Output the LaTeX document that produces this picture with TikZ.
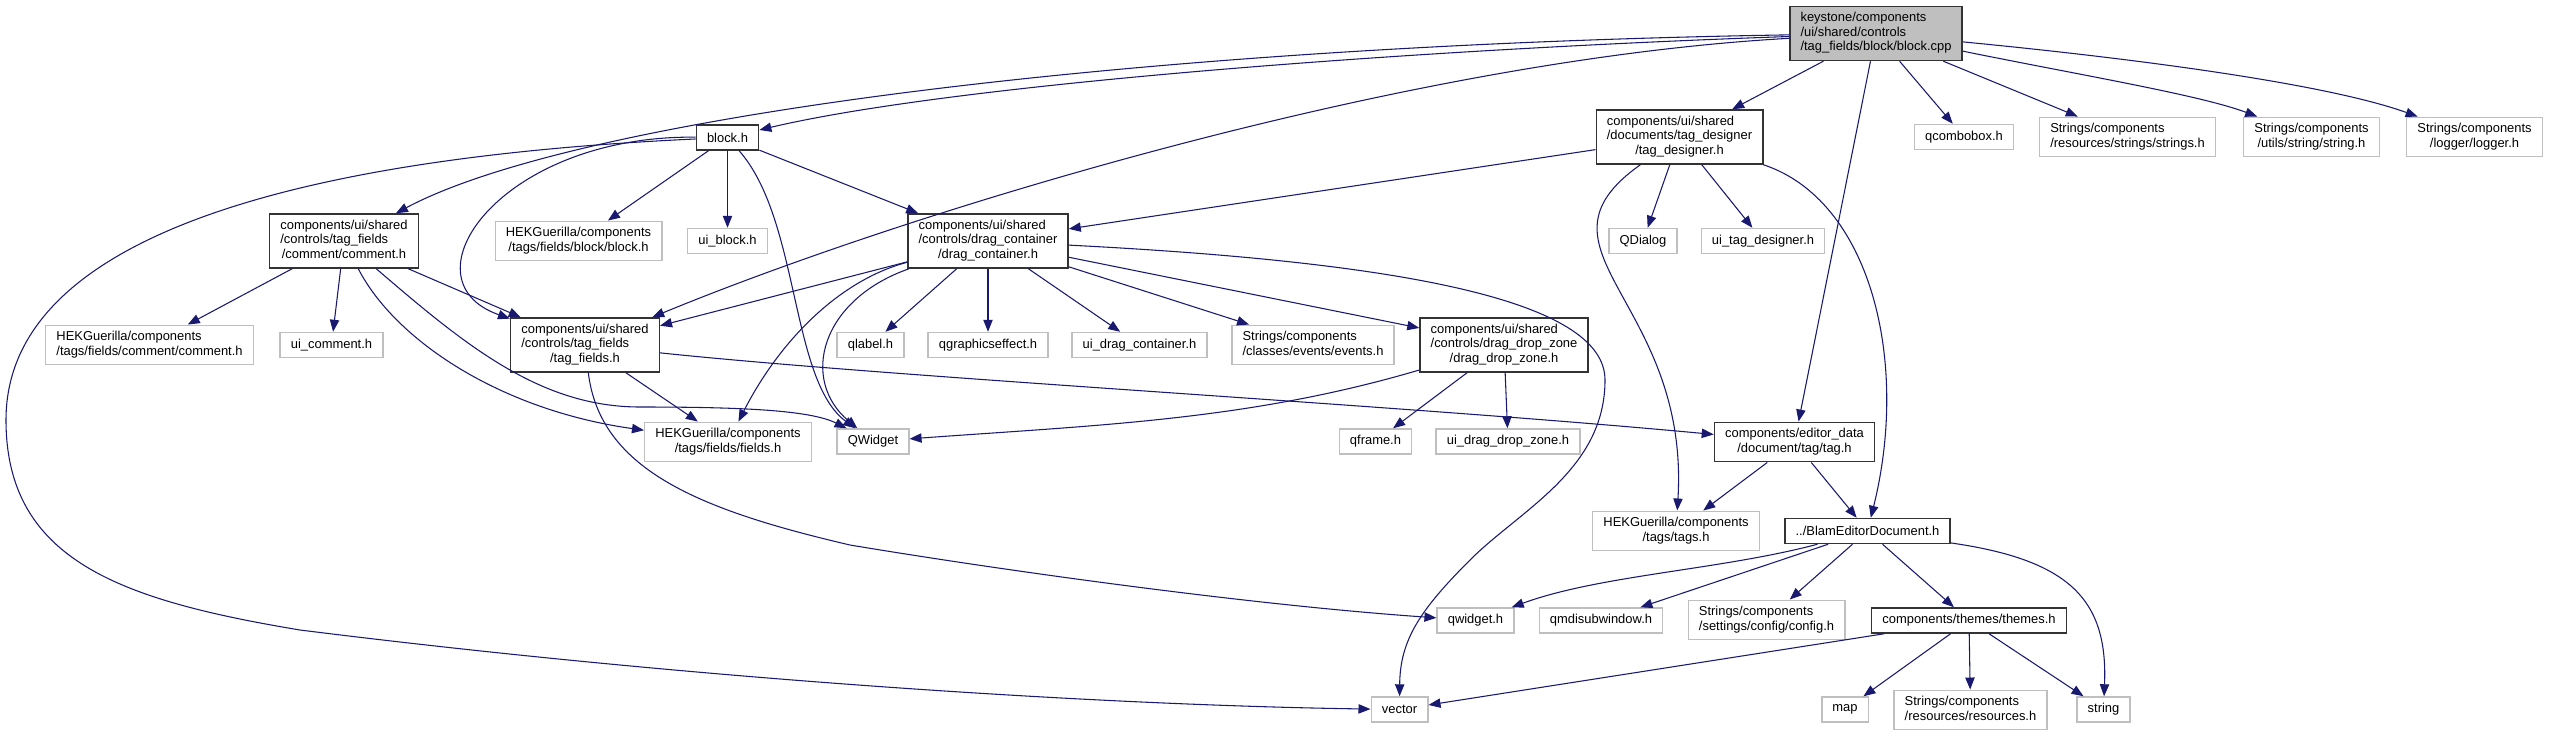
\documentclass[tikz,border=0pt]{standalone}
\usepackage{fontspec}
\setmainfont{Liberation Sans}
\usetikzlibrary{arrows.meta}
\definecolor{edgeblue}{HTML}{191970}
% lines left aligned, last one centred (as doxygen does)
\newcommand{\flines}[2]{\begin{tabular}{@{}l@{}}#1\\\multicolumn{1}{@{}c@{}}{#2}\end{tabular}}

\begin{document}
\begin{tikzpicture} [x=0.75pt, y=-0.75pt,
    every node/.style = {font=\fontsize{9.7}{10.9}\selectfont},
    box/.style = {rectangle,
    inner xsep = 8pt,
    inner ysep = 3.9pt,
    minimum height = 18.75pt,
    line width = 1.1pt,
    fill = white},
    doc/.style = {box, draw=black!80},
    ext/.style = {box, draw=gray!50},
    root/.style = {box, draw=black!80, fill=gray!50},
    dep/.style = {draw=edgeblue, line width=0.8pt,
    -{Triangle[length=9pt,width=7pt]}}]

\useasboundingbox (0,0) rectangle (2549,736);

% rank 0 and 1
\node (cpp) at (1876,33.5) [root] {\flines{keystone/components\\/ui/shared/controls}{/tag\_fields/block/block.cpp}};
\node (blockh) at (727.5,137.5) [doc] {block.h};
\node (tagdes) at (1679.5,137) [doc] {\flines{components/ui/shared\\/documents/tag\_designer}{/tag\_designer.h}};
\node (qcombo) at (1964,137) [ext] {qcombobox.h};
\node (strings) at (2127.5,137) [ext] {\flines{Strings/components}{/resources/strings/strings.h}};
\node (stringh) at (2311.5,137) [ext] {\flines{Strings/components}{/utils/string/string.h}};
\node (logger) at (2474.5,137) [ext] {\flines{Strings/components}{/logger/logger.h}};

% rank 2
\node (comment) at (344,241) [doc] {\flines{components/ui/shared\\/controls/tag\_fields}{/comment/comment.h}};
\node (hekblock) at (578.5,241) [ext] {\flines{HEKGuerilla/components}{/tags/fields/block/block.h}};
\node (uiblock) at (727.5,241) [ext] {ui\_block.h};
\node (dragcont) at (988,241) [doc] {\flines{components/ui/shared\\/controls/drag\_container}{/drag\_container.h}};
\node (qdialog) at (1643,241) [ext] {QDialog};
\node (uitagdes) at (1763,241) [ext] {ui\_tag\_designer.h};

% rank 3
\node (hekcomment) at (149.5,345) [ext] {\flines{HEKGuerilla/components}{/tags/fields/comment/comment.h}};
\node (uicomment) at (331.5,345) [ext] {ui\_comment.h};
\node (tagfields) at (585,345) [doc] {\flines{components/ui/shared\\/controls/tag\_fields}{/tag\_fields.h}};
\node (qlabel) at (870.5,345) [ext] {qlabel.h};
\node (qgfx) at (988,345) [ext] {qgraphicseffect.h};
\node (uidragcont) at (1139.5,345) [ext] {ui\_drag\_container.h};
\node (events) at (1313,345) [ext] {\flines{Strings/components}{/classes/events/events.h}};
\node (dropzone) at (1504,345) [doc] {\flines{components/ui/shared\\/controls/drag\_drop\_zone}{/drag\_drop\_zone.h}};

% rank 4
\node (fields) at (728,442) [ext] {\flines{HEKGuerilla/components}{/tags/fields/fields.h}};
\node (qwidgetcap) at (873,441.5) [ext] {QWidget};
\node (qframe) at (1375.5,441.5) [ext] {qframe.h};
\node (uidropzone) at (1508,441.5) [ext] {ui\_drag\_drop\_zone.h};
\node (tagh) at (1794.5,442) [doc] {\flines{components/editor\_data}{/document/tag/tag.h}};

% rank 5 to 7
\node (tags) at (1676,531) [ext] {\flines{HEKGuerilla/components}{/tags/tags.h}};
\node (blam) at (1867.5,531) [doc] {../BlamEditorDocument.h};
\node (qwidget) at (1475.5,620.5) [ext] {qwidget.h};
\node (qmdi) at (1601,620.5) [ext] {qmdisubwindow.h};
\node (config) at (1766.5,620) [ext] {\flines{Strings/components}{/settings/config/config.h}};
\node (themes) at (1969,620.5) [doc] {components/themes/themes.h};
\node (vector) at (1399.5,709.5) [ext] {vector};
\node (map) at (1845,709.5) [ext] {map};
\node (resources) at (1970.5,710) [ext] {\flines{Strings/components}{/resources/resources.h}};
\node (string) at (2103.5,709.5) [ext] {string};

% block.cpp
\draw[dep] (cpp) .. controls (1150,45) and (580,115) .. (comment);
\draw[dep] (cpp) .. controls (1400,50) and (950,85) .. (blockh);
\draw[dep] (cpp) .. controls (1400,60) and (900,215) .. (tagfields);
\draw[dep] (cpp) -- (tagdes);
\draw[dep] (cpp) -- (tagh);
\draw[dep] (cpp) -- (qcombo);
\draw[dep] (cpp) -- (strings);
\draw[dep] (cpp) .. controls (2080,75) and (2200,95) .. (stringh);
\draw[dep] (cpp) .. controls (2150,60) and (2330,85) .. (logger);

% block.h
\draw[dep] (blockh) .. controls (350,155) and (6,220) .. (6,420)
  .. controls (6,560) and (120,600) .. (300,630)
  .. controls (700,680) and (1100,705) .. (vector);
\draw[dep] (blockh) .. controls (500,135) and (400,280) .. (tagfields);
\draw[dep] (blockh) -- (hekblock);
\draw[dep] (blockh) -- (uiblock);
\draw[dep] (blockh) .. controls (800,220) and (790,380) .. (qwidgetcap);
\draw[dep] (blockh) -- (dragcont);

% comment.h
\draw[dep] (comment) -- (hekcomment);
\draw[dep] (comment) -- (uicomment);
\draw[dep] (comment) .. controls (395,340) and (500,410) .. (fields);
\draw[dep] (comment) .. controls (465,345) and (540,407) .. (640,407)
  .. controls (740,407) and (810,410) .. (qwidgetcap);
\draw[dep] (comment) -- (tagfields);

% tag_fields.h
\draw[dep] (tagfields) -- (fields);
\draw[dep] (tagfields) .. controls (600,470) and (700,510) .. (850,545)
  .. controls (1000,570) and (1250,605) .. (qwidget);
\draw[dep] (tagfields) .. controls (900,378) and (1400,405) .. (tagh);

% drag_container.h
\draw[dep] (dragcont) -- (tagfields);
\draw[dep] (dragcont) .. controls (840,280) and (780,340) .. (fields);
\draw[dep] (dragcont) .. controls (820,300) and (800,380) .. (qwidgetcap);
\draw[dep] (dragcont) -- (qlabel);
\draw[dep] (dragcont) -- (qgfx);
\draw[dep] (dragcont) -- (uidragcont);
\draw[dep] (dragcont) -- (events);
\draw[dep] (dragcont) -- (dropzone);
\draw[dep] (dragcont) .. controls (1400,262) and (1605,300) .. (1605,380)
  .. controls (1605,470) and (1520,510) .. (1470,560)
  .. controls (1420,610) and (1400,640) .. (vector);

% drag_drop_zone.h
\draw[dep] (dropzone) .. controls (1250,420) and (1100,425) .. (qwidgetcap);
\draw[dep] (dropzone) -- (qframe);
\draw[dep] (dropzone) -- (uidropzone);

% tag_designer.h
\draw[dep] (tagdes) -- (dragcont);
\draw[dep] (tagdes) .. controls (1520,250) and (1690,300) .. (tags);
\draw[dep] (tagdes) -- (qdialog);
\draw[dep] (tagdes) -- (uitagdes);
\draw[dep] (tagdes) .. controls (1870,200) and (1910,360) .. (blam);

% tag.h
\draw[dep] (tagh) -- (tags);
\draw[dep] (tagh) -- (blam);

% BlamEditorDocument.h
\draw[dep] (blam) .. controls (1720,570) and (1600,575) .. (qwidget);
\draw[dep] (blam) -- (qmdi);
\draw[dep] (blam) -- (config);
\draw[dep] (blam) -- (themes);
\draw[dep] (blam) .. controls (2070,560) and (2108,600) .. (string);

% themes.h
\draw[dep] (themes) -- (vector);
\draw[dep] (themes) -- (map);
\draw[dep] (themes) -- (resources);
\draw[dep] (themes) -- (string);

\end{tikzpicture}
\end{document}
